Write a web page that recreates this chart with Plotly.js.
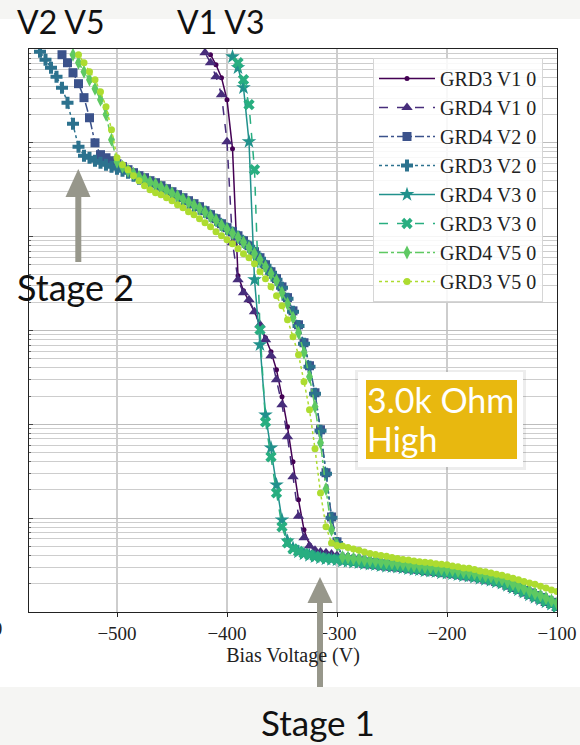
<!DOCTYPE html>
<html>
<head>
<meta charset="utf-8">
<script src="https://cdn.plot.ly/plotly-3.0.1.min.js"></script>
<style>
  html, body { margin:0; padding:0; }
  body { width:580px; height:745px; overflow:hidden;
    background: linear-gradient(to bottom, #f5f5f3 0px, #f5f5f3 19px, #ffffff 19px, #ffffff 687px, #f5f5f3 687px, #f5f5f3 745px); }
  #chart { width:580px; height:745px; }
</style>
</head>
<body>
<div id="chart"></div>
<script>
// Bias voltage steps (V)
const bias = [-100,-105,-110,-115,-120,-125,-130,-135,-140,-145,-150,-155,-160,-165,-170,-175,-180,-185,-190,-195,
  -200,-205,-210,-215,-220,-225,-230,-235,-240,-245,-250,-255,-260,-265,-270,-275,-280,-285,-290,-295,
  -300,-305,-310,-315,-320,-325,-330,-335,-340,-345,-350,-355,-360,-365,-370,-375,-380,-385,-390,-395,
  -400,-405,-410,-415,-420,-425,-430,-435,-440,-445,-450,-455,-460,-465,-470,-475,-480,-485,-490,-495,
  -500,-505,-510,-515,-520,-525,-530,-535,-540,-545,-550,-555,-560,-565,-570];

// Current (arbitrary log units) per series, starting at -100 V
const grd3V1 = [0.112,0.120,0.126,0.134,0.141,0.150,0.160,0.170,0.179,0.190,0.200,0.206,0.214,0.219,0.225,0.231,0.237,0.240,0.246,0.252,
  0.255,0.258,0.265,0.268,0.271,0.278,0.281,0.285,0.291,0.295,0.299,0.302,0.306,0.314,0.318,0.322,0.346,0.355,0.368,0.382,
  0.396,0.410,0.421,0.432,0.459,0.519,0.751,1.57,3.99,9.42,19.7,38.1,59.3,83.7,115,158,208,265,383,8670,
  28800,49500,68000,86900];
const grd4V1 = [0.109,0.117,0.123,0.131,0.138,0.147,0.156,0.166,0.174,0.185,0.195,0.201,0.209,0.214,0.220,0.226,0.231,0.234,0.240,0.246,
  0.249,0.252,0.258,0.261,0.264,0.271,0.274,0.278,0.284,0.288,0.292,0.295,0.299,0.307,0.310,0.314,0.350,0.359,0.372,0.387,
  0.401,0.416,0.427,0.437,0.454,0.506,0.617,1.05,2.76,7.37,16.2,29.9,53.8,79.7,115,158,213,252,348,861,
  10300,32600,50700,71400,91200];
const grd4V2 = [0.119,0.127,0.134,0.143,0.150,0.160,0.170,0.181,0.190,0.202,0.212,0.219,0.228,0.233,0.239,0.246,0.252,0.255,0.261,0.268,
  0.271,0.274,0.281,0.285,0.288,0.295,0.298,0.302,0.310,0.314,0.318,0.321,0.326,0.334,0.338,0.342,0.351,0.355,0.363,0.368,
  0.559,1.03,3.05,8.75,21.7,42.1,74.1,115,162,224,292,357,423,502,597,691,800,905,1023,1129,
  1246,1374,1554,1714,1891,2086,2246,2417,2602,2800,3014,3245,3493,3760,3950,4252,4467,4808,5176,5572,
  5997,6446,6935,7480,10000,18500,30300,42700,55900,71400,86900];
const grd3V2 = [0.120,0.128,0.136,0.144,0.152,0.161,0.172,0.182,0.192,0.203,0.214,0.221,0.230,0.235,0.242,0.248,0.254,0.258,0.264,0.270,
  0.273,0.277,0.284,0.287,0.290,0.298,0.301,0.305,0.313,0.317,0.321,0.324,0.329,0.337,0.341,0.346,0.354,0.358,0.367,0.371,
  0.545,1.01,2.97,8.54,21.2,41.1,72.3,112,158,218,285,348,413,490,582,674,781,883,999,1102,
  1216,1341,1516,1672,1845,1986,2138,2301,2477,2666,2870,3089,3245,3493,3669,3854,4149,4467,4808,5050,
  5305,5572,5851,6142,6446,6935,7300,9100,16000,26800,38700,50700,63200,76900,93500];
const grd4V3 = [0.113,0.121,0.128,0.136,0.143,0.152,0.162,0.172,0.181,0.192,0.202,0.209,0.217,0.222,0.228,0.234,0.240,0.243,0.249,0.255,
  0.258,0.261,0.268,0.271,0.274,0.281,0.284,0.288,0.295,0.299,0.303,0.306,0.310,0.318,0.322,0.326,0.334,0.338,0.346,0.350,
  0.359,0.363,0.368,0.377,0.387,0.401,0.416,0.437,0.482,0.573,0.959,2.27,5.62,12.6,70.5,348,10300,38700,63200,82700];
const grd3V3 = [0.114,0.122,0.130,0.138,0.145,0.154,0.164,0.174,0.183,0.194,0.204,0.212,0.220,0.225,0.231,0.237,0.243,0.246,0.252,0.258,
  0.261,0.264,0.271,0.274,0.277,0.284,0.287,0.291,0.299,0.303,0.307,0.310,0.314,0.322,0.326,0.330,0.338,0.342,0.350,0.354,
  0.363,0.367,0.372,0.382,0.392,0.406,0.421,0.442,0.471,0.545,0.808,1.86,4.50,10.6,102,5176,25500,47100,71400];
const grd4V5 = [0.124,0.133,0.141,0.150,0.157,0.167,0.178,0.189,0.199,0.211,0.222,0.230,0.239,0.244,0.251,0.257,0.264,0.267,0.274,0.281,
  0.284,0.287,0.295,0.298,0.301,0.309,0.312,0.317,0.325,0.329,0.333,0.337,0.341,0.350,0.354,0.359,0.367,0.372,0.381,0.385,
  0.519,0.751,2.05,6.36,15.4,32.1,57.9,94.6,137,193,252,340,403,478,568,658,763,872,986,1088,
  1201,1325,1497,1652,1822,2011,2164,2329,2508,2699,2905,3127,3367,3622,3806,4098,4358,4691,5050,5572,
  6295,10800,20000,28800,37800,47100,57300,71400,86900];
const grd3V5 = [0.165,0.172,0.180,0.188,0.197,0.204,0.212,0.220,0.229,0.237,0.246,0.253,0.261,0.268,0.274,0.284,0.292,0.295,0.303,0.310,
  0.318,0.322,0.326,0.334,0.338,0.344,0.350,0.359,0.363,0.372,0.380,0.392,0.401,0.411,0.421,0.437,0.454,0.470,0.487,0.505,
  0.512,0.545,0.808,1.86,5.48,14.3,28.5,55.1,85.8,130,183,234,292,357,423,515,596,658,744,840,
  928,1023,1129,1277,1409,1554,1714,1845,2036,2191,2418,2602,2800,2941,3166,3493,3950,4467,5176,5851,
  6935,13800,24300,35100,47100,57300,71400,86900];

const seriesNames = ['GRD3 V1 0','GRD4 V1 0','GRD4 V2 0','GRD3 V2 0','GRD4 V3 0','GRD3 V3 0','GRD4 V5 0','GRD3 V5 0'];
const seriesData = [grd3V1, grd4V1, grd4V2, grd3V2, grd4V3, grd3V3, grd4V5, grd3V5];
const xTickVals = [-600,-500,-400,-300,-200,-100];

// styles
const colors = ['#440154','#472d7b','#3b528b','#2c728e','#21918c','#28ae80','#5ec962','#addc30'];
const dashes = ['solid','dash','dashdot','dot','solid','dash','dashdot','dot'];
const symbols = ['circle','triangle-up','square','cross','star','x','diamond-tall','circle'];
const sizes = [5,10,9,10,11,10,10,7];

const traces = seriesData.map((ys, k) => ({
  type:'scatter', mode:'lines+markers', name: seriesNames[k],
  x: bias.slice(0, ys.length), y: ys,
  line:{color:colors[k], dash:dashes[k], width:1.5},
  marker:{color:colors[k], symbol:symbols[k], size:sizes[k], line:{width:0}},
  cliponaxis:true
}));

const L0=29, R0=557, T0=49, B0=612;
const px = x => (x-L0)/(R0-L0);
const py = y => (B0-y)/(B0-T0);
const sans = 'Lato, "Noto Sans", sans-serif';
const serif = '"Liberation Serif", "DejaVu Serif", serif';
const arrowCol = '#97978b';

function ann(text, x, y, xa, size, color, ya){
  return {xref:'paper', yref:'paper', x:px(x), y:py(y), xanchor:xa, yanchor: ya||'middle',
    text:text, showarrow:false, font:{family:sans, size:size, color:color||'#111'}};
}
function rect(x0,y0,x1,y1,fill){
  return {type:'rect', xref:'paper', yref:'paper', x0:px(x0), x1:px(x1), y0:py(y0), y1:py(y1),
    fillcolor:fill, line:{width:0}, layer:'above'};
}
function tri(tx,ty,bx0,bx1,by,fill){
  return {type:'path', xref:'paper', yref:'paper',
    path:`M${px(tx)},${py(ty)} L${px(bx0)},${py(by)} L${px(bx1)},${py(by)} Z`,
    fillcolor:fill, line:{width:0}, layer:'above'};
}

const layout = {
  width:580, height:745,
  margin:{l:L0, r:580-R0, t:T0, b:745-B0},
  paper_bgcolor:'rgba(0,0,0,0)', plot_bgcolor:'#ffffff',
  showlegend:true,
  xaxis:{range:[-580,-100], tickvals:xTickVals, ticks:'outside', ticklen:4, tickcolor:'#222',
    showgrid:true, gridcolor:'#cdcdcd', gridwidth:1.2, zeroline:false,
    showline:true, mirror:true, linecolor:'#222', linewidth:1.3,
    tickfont:{family:serif, size:19, color:'#222'},
    title:{text:'Bias Voltage (V)', font:{family:serif, size:20, color:'#222'}, standoff:0}},
  yaxis:{type:'log', range:[-1,5], dtick:1, showticklabels:false, ticks:'inside', ticklen:4, tickcolor:'#444',
    showgrid:true, gridcolor:'#bdbdbd', gridwidth:1, zeroline:false,
    showline:true, mirror:true, linecolor:'#222', linewidth:1.3,
    minor:{dtick:'D1', showgrid:true, gridcolor:'#cdcdcd', gridwidth:1, ticks:'inside', ticklen:2, tickcolor:'#666'}},
  legend:{x:px(373), y:py(58), xanchor:'left', yanchor:'top', bgcolor:'rgba(255,255,255,0.85)',
    bordercolor:'#d6d6d6', borderwidth:1, font:{family:serif, size:20, color:'#222'}, itemwidth:56},
  shapes:[
    rect(355,370,526,470,'rgba(0,0,0,0.07)'),
    rect(358,372,523,467,'#ffffff'),
    rect(366,380,517,459,'#e8b80f'),
    rect(75.3,195,81.3,262,arrowCol),
    tri(78.3,169,65.5,90.5,197,arrowCol),
    rect(317,601,323,687,arrowCol),
    tri(320,577,307.5,332.5,603,arrowCol)
  ],
  annotations:[
    ann('V2 V5', 15, 21, 'left', 32),
    ann('V1 V3', 175, 21, 'left', 32),
    ann('Stage 2', 15, 287, 'left', 36),
    ann('Stage 1', 318, 722, 'center', 35),
    ann('3.0k Ohm', 365, 399, 'left', 34, '#ffffff'),
    ann('High', 365, 439, 'left', 34, '#ffffff'),
    {xref:'paper', yref:'paper', x:px(4), y:py(628), xanchor:'right', yanchor:'middle', text:'\u2212600',
     showarrow:false, font:{family:serif, size:19, color:'#222'}}
  ]
};

Plotly.newPlot('chart', traces, layout, {staticPlot:true, displayModeBar:false});
</script>
</body>
</html>
